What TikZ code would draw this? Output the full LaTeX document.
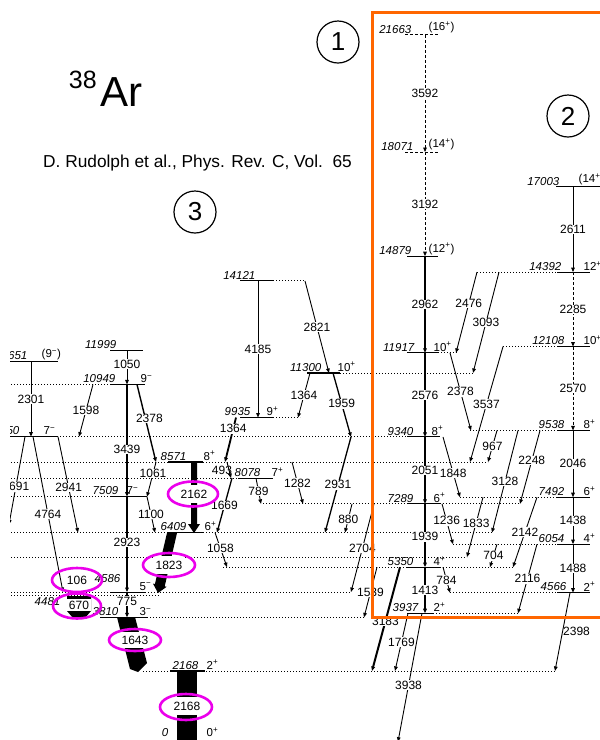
\documentclass[tikz,border=0pt]{standalone}
\usepackage{fontspec}
\setmainfont{Liberation Sans}
\usetikzlibrary{arrows.meta}
\definecolor{boxorange}{RGB}{255,102,0}
\definecolor{ringpink}{RGB}{235,0,235}
\newcommand{\Jp}[1]{#1\textsuperscript{+}}
\newcommand{\Jm}[1]{#1\textsuperscript{−}}
\tikzset{
  lev/.style={line width=1.1pt},
  dotlev/.style={line width=0.9pt, dash pattern=on 0.9pt off 2.1pt},
  dashlev/.style={line width=0.9pt, dash pattern=on 3pt off 2pt},
  gam/.style={line width=0.9pt, -{Triangle[length=4.5pt,width=3.6pt]}},
  gamdash/.style={gam, dash pattern=on 3pt off 2pt},
  glbl/.style={fill=white, inner sep=0.6pt, font=\fontsize{12}{12}\selectfont},
  barlbl/.style={glbl, inner xsep=2pt, inner ysep=5pt},
  elab/.style={anchor=south east, inner sep=1.5pt, font=\fontsize{11.5}{11.5}\selectfont\itshape},
  slab/.style={anchor=south west, inner sep=1.5pt, font=\fontsize{11.5}{11.5}\selectfont},
  ring/.style={draw=ringpink, line width=2.6pt},
  numring/.style={circle, draw, line width=1.2pt, minimum size=42pt, inner sep=0pt,
    font=\fontsize{26}{26}\selectfont}
}
\begin{document}
\begin{tikzpicture}[x=1pt, y=-1pt]
  \useasboundingbox (0,0) rectangle (600,740);
  \clip (10,0) rectangle (600,740);
  \begin{scope}[yshift=-741.7pt, y=32.63pt]
    \foreach \e/\a/\b in {14.392/477/557, 14.121/273/305, 12.108/503/557, 11.917/438/457,
        11.300/340/473, 10.949/8/110, 9.935/273/300, 9.538/470/557, 9.340/57/407,
        8.571/8/168, 8.571/203/488, 8.078/8/238, 7.509/8/110, 7.492/460/557,
        7.289/263/407, 7.289/440/520, 6.409/8/167, 6.409/203/492, 6.054/453/557,
        5.658/8/467, 5.350/223/407, 5.350/440/513, 4.586/8/110, 4.586/145/351,
        4.566/450/557, 4.481/8/160, 3.937/433/518, 3.810/147/365, 2.168/143/555}
      \draw[dotlev] (\a,\e) -- (\b,\e);
    \foreach \e/\a/\b in {21.663/405/438, 18.071/405/438}
      \draw[dashlev] (\a,\e) -- (\b,\e);
    \foreach \e/\a/\b in {17.003/556/602, 14.879/407/438, 14.392/557/590, 14.121/240/273,
        12.108/557/590, 11.999/110/143, 11.917/407/438, 11.651/8/58, 11.300/307/340,
        10.949/110/145, 9.935/240/273, 9.538/557/590, 9.350/8/57, 9.340/407/440,
        8.571/168/203, 8.078/238/273, 7.509/110/147, 7.492/557/590, 7.289/407/440,
        6.409/167/203, 6.054/557/590, 5.350/407/440, 4.586/110/145, 4.566/557/590,
        3.937/407/433, 3.810/100/147, 2.168/170/205}
      \draw[lev] (\a,\e) -- (\b,\e);

    \foreach \e/\x/\t in {21.663/413/21663, 18.071/415/18071, 17.003/561/17003,
        14.879/413/14879, 14.392/563/14392, 14.121/257/14121, 12.108/566/12108,
        11.999/118/11999, 11.917/416/11917, 11.651/29/11651, 11.300/323/11300,
        10.949/117/10949, 9.935/252/9935, 9.538/566/9538, 9.350/21/9350, 9.340/415/9340,
        8.571/188/8571, 8.078/262/8078, 7.509/120/7509, 7.492/566/7492, 7.289/415/7289,
        6.409/188/6409, 6.054/566/6054, 5.350/415/5350, 4.566/568/4566, 3.937/420/3937,
        3.810/120/3810, 2.168/200/2168}
      \node[elab] (E\t) at (\x,\e) {\t};
    \node[elab, yshift=8pt] (E4586) at (122,4.586) {4586};
    \node[elab, anchor=north east] (E4481) at (62,4.481) {4481};
    \node[elab, yshift=3pt] (E0) at (170,0) {0};
    \foreach \e/\x/\t/\j in {21.663/427/21663/{(\Jp{16})}, 18.071/427/18071/{(\Jp{14})},
        17.003/577/17003/{(\Jp{14})}, 14.879/427/14879/{(\Jp{12})}, 14.392/582/14392/{\Jp{12}},
        12.108/582/12108/{\Jp{10}}, 11.917/432/11917/{\Jp{10}}, 11.651/40/11651/{(\Jm{9})},
        11.300/336/11300/{\Jp{10}}, 10.949/139/10949/{\Jm{9}}, 9.935/265/9935/{\Jp{9}},
        9.538/582/9538/{\Jp{8}}, 9.350/42/9350/{\Jm{7}}, 9.340/430/9340/{\Jp{8}},
        8.571/202/8571/{\Jp{8}}, 8.078/270/8078/{\Jp{7}}, 7.509/125/7509/{\Jm{7}},
        7.492/582/7492/{\Jp{6}}, 7.289/432/7289/{\Jp{6}}, 6.409/203/6409/{\Jp{6}},
        6.054/582/6054/{\Jp{4}}, 5.350/432/5350/{\Jp{4}}, 4.586/138/4586/{\Jm{5}},
        4.566/582/4566/{\Jp{2}}, 3.937/432/3937/{\Jp{2}}, 3.810/138/3810/{\Jm{3}},
        2.168/205/2168/{\Jp{2}}}
      \node[slab] (J\t) at (\x,\e) {\j};
    \node[slab, yshift=3pt] (J0) at (205,0) {\Jp{0}};

    \draw[gam] (31,11.651) -- node[glbl] (g2301) {2301} (31,9.350);
    \draw[gam] (93,10.949) -- node[glbl] (g1598) {1598} (79,9.350);
    \draw[gam] (25,9.350) -- node[glbl, pos=0.57] (g2691) {2691} (9,6.659);
    \draw[gam] (33,9.350) -- node[glbl] (g4764) {4764} (63,4.586);
    \draw[gam] (58,9.350) -- node[glbl, pos=0.53] (g2941) {2941} (78,6.409);
    \draw[gam] (127,11.999) -- node[glbl, pos=0.4] (g1050) {1050} (127,10.949);
    \draw[gam, line width=1.4pt] (127,10.949) -- node[glbl, pos=0.58] (g3439) {3439} (127,7.509);
    \draw[gam, line width=1.4pt] (137,10.949) -- node[glbl, pos=0.44, xshift=4pt] (g2378a) {2378} (156,8.571);
    \draw[gam] (156,8.571) -- node[glbl, pos=0.33] (g1061) {1061} (147,7.509);
    \draw[gam] (147,7.509) -- node[glbl] (g1100) {1100} (155,6.409);
    \draw[gam, line width=2.6pt] (127,7.509) -- node[glbl, pos=0.48] (g2923) {2923} (127,4.586);
    \draw[gam, line width=2.6pt] (127,4.586) -- node[glbl, pos=0.36] (g775) {775} (127,3.810);

    \draw[gam] (258,14.121) -- node[glbl] (g4185) {4185} (258,9.935);
    \draw[gam] (305,14.121) -- node[glbl] (g2821) {2821} (329,11.300);
    \draw[gam] (310,11.300) -- node[glbl] (g1364a) {1364} (298,9.935);
    \draw[gam, line width=1.3pt] (333,11.300) -- node[glbl, pos=0.48] (g1959) {1959} (351,9.340);
    \draw[gam, line width=1.8pt] (236,9.935) -- node[glbl, pos=0.25] (g1364b) {1364} (225,8.571);
    \draw[gam] (227,8.571) -- node[glbl, fill=none, xshift=-7pt] (g493) {493} (231,8.078);
    \draw[gam, line width=1.3pt] (232,8.078) -- node[glbl] (g1669) {1669} (217,6.409);
    \draw[gam] (256,8.078) -- node[glbl] (g789) {789} (261,7.289);
    \draw[gam] (292,8.571) -- node[glbl] (g1282) {1282} (303,7.289);
    \draw[gam] (215,6.409) -- node[glbl, pos=0.45] (g1058) {1058} (227,5.350);
    \draw[gam, line width=1.3pt] (351,9.340) -- node[glbl] (g2931) {2931} (325,6.409);
    \draw[gam] (352,7.289) -- node[glbl, pos=0.53] (g880) {880} (345,6.409);
    \draw[gam] (374,7.289) -- node[glbl] (g2704) {2704} (351,4.586);
    \draw[gam] (377,5.350) -- node[glbl] (g1539) {1539} (364,3.810);
    \draw[gam, line width=2pt] (400,5.350) -- node[glbl, pos=0.52] (g3183) {3183} (372,2.168);
    \draw[gam] (408,3.937) -- node[glbl] (g1769) {1769} (395,2.168);
    \draw[gam] (422,3.937) -- node[glbl, pos=0.56] (g3938) {3938} (398,0);

    \draw[gamdash] (425,21.663) -- node[glbl] (g3592) {3592} (425,18.071);
    \draw[gamdash] (425,18.071) -- node[glbl] (g3192) {3192} (425,14.879);
    \draw[gam, line width=1.2pt] (425,14.879) -- node[glbl] (g2962) {2962} (425,11.917);
    \draw[gam, line width=1.6pt] (425,11.917) -- node[glbl] (g2576) {2576} (425,9.340);
    \draw[gam, line width=2.6pt] (425,9.340) -- node[glbl] (g2051) {2051} (425,7.289);
    \draw[gam, line width=2.2pt] (425,7.289) -- node[glbl, pos=0.52] (g1939) {1939} (425,5.350);
    \draw[gam, line width=2pt] (425,5.350) -- node[glbl] (g1413) {1413} (425,3.937);
    \draw[gam] (477,14.392) -- node[glbl, pos=0.39] (g2476) {2476} (456,11.917);
    \draw[gam] (499,14.392) -- node[glbl] (g3093) {3093} (473,11.300);
    \draw[gam] (450,11.917) -- node[glbl] (g2378b) {2378} (471,9.538);
    \draw[gam] (503,12.108) -- node[glbl] (g3537) {3537} (470,8.571);
    \draw[gam] (443,9.340) -- node[glbl, pos=0.6] (g1848) {1848} (460,7.492);
    \draw[gam] (497,9.538) -- node[glbl] (g967) {967} (488,8.571);
    \draw[gam] (518,9.538) -- node[glbl] (g3128) {3128} (492,6.409);
    \draw[gam] (540,9.538) -- node[glbl, pos=0.41] (g2248) {2248} (520,7.289);
    \draw[gam] (442,7.289) -- node[glbl, pos=0.42] (g1236) {1236} (453,6.054);
    \draw[gam] (483,7.492) -- node[glbl, pos=0.43] (g1833) {1833} (467,5.658);
    \draw[gam] (537,7.492) -- node[glbl] (g2142) {2142} (513,5.350);
    \draw[gam] (497,6.054) -- node[glbl] (g704) {704} (490,5.350);
    \draw[gam] (537,6.054) -- node[glbl] (g2116) {2116} (518,3.937);
    \draw[gam] (443,5.350) -- node[glbl] (g784) {784} (450,4.566);
    \draw[gam] (573,17.003) -- node[glbl] (g2611) {2611} (573,14.392);
    \draw[gamdash] (573,14.392) -- node[glbl] (g2285) {2285} (573,12.108);
    \draw[gamdash] (573,12.108) -- node[glbl] (g2570) {2570} (573,9.538);
    \draw[gam] (573,9.538) -- node[glbl] (g2046) {2046} (573,7.492);
    \draw[gam] (573,7.492) -- node[glbl] (g1438) {1438} (573,6.054);
    \draw[gam] (573,6.054) -- node[glbl] (g1488) {1488} (573,4.566);
    \draw[gam] (570,4.566) -- node[glbl, fill=none, xshift=14pt] (g2398) {2398} (555,2.168);
  \end{scope}

  \fill (191,462) -- (197,462) -- (197,524) -- (200,524) -- (194,533) -- (188,524) -- (191,524) -- cycle;
  \fill (167,533) -- (177,533) -- (164.7,586.3) -- (166.6,586.8) -- (158,593) -- (153,583.6) -- (154.9,584.1) -- cycle;
  \fill (67,596) -- (91,596) -- (91,611) -- (85,618) -- (73,618) -- (67,611) -- cycle;
  \fill (117,617) -- (135,617) -- (147,663) -- (138,672) -- (130,669) -- cycle;
  \fill (177,671) rectangle (197,745);
  \node[barlbl] (b2162) at (194,494) {2162};
  \node[barlbl] (b1823) at (169,565) {1823};
  \node[glbl] (b106) at (77,580) {106};
  \node[barlbl, inner ysep=2pt] (b670) at (79,605) {670};
  \node[barlbl, inner ysep=4pt] (b1643) at (135,640) {1643};
  \node[barlbl] (b2168) at (187,706) {2168};
  \foreach \x/\y/\rx/\ry in {193/494/25/12.5, 169/565/26/12, 77/580/25/12,
      77/606/24/12.5, 135/640/26/11, 186/707/26/13}
    \draw[ring] (\x,\y) ellipse [x radius=\rx, y radius=\ry];

  \draw[line width=3pt, boxorange] (372,12) rectangle (615,617);

  \node[numring] (one) at (338,42) {1};
  \node[numring] (two) at (568,116) {2};
  \node[numring] (three) at (195,212) {3};
  \node[anchor=base west, inner sep=0pt, font=\fontsize{42}{42}\selectfont] (nuc) at (100,106) {Ar};
  \node[anchor=base east, inner sep=0pt, font=\fontsize{25}{25}\selectfont] (mass) at (97,88) {38};
  \node[anchor=base west, inner sep=0pt, font=\fontsize{17.3}{17.3}\selectfont] (ref) at (43,167)
    {D. Rudolph et al., Phys. Rev. C, Vol.\ \ 65};
\end{tikzpicture}
\end{document}
